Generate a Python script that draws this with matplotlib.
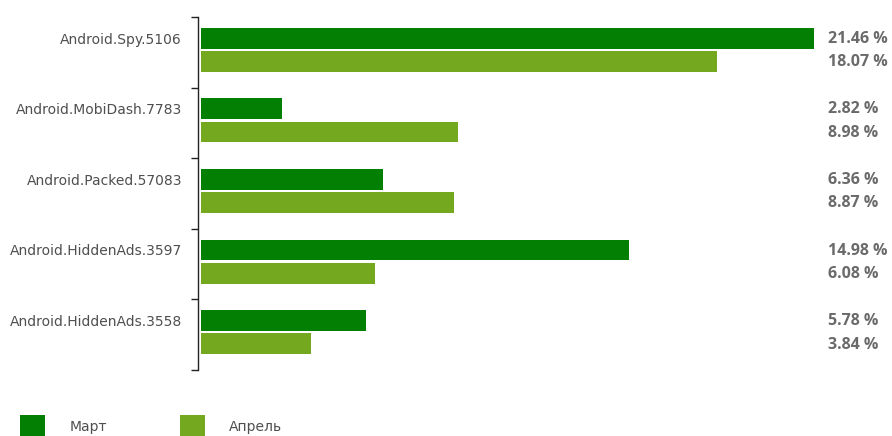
import matplotlib
matplotlib.use('Agg')
import matplotlib.pyplot as plt
from matplotlib.patches import Rectangle
from matplotlib.transforms import blended_transform_factory

# data
names = ["Android.Spy.5106", "Android.MobiDash.7783", "Android.Packed.57083",
         "Android.HiddenAds.3597", "Android.HiddenAds.3558"]
march = [21.46, 2.82, 6.36, 14.98, 5.78]
april = [18.07, 8.98, 8.87, 6.08, 3.84]
series_names = ["Март", "Апрель"]

c_march = "#038003"
c_april = "#74a81e"
txt_grey = "#4f4f4f"

W, H = 892, 436
fig = plt.figure(figsize=(W / 100, H / 100), dpi=100)
fig.patch.set_facecolor("white")

# axes placed in pixel terms: left spine at x=198, from y=17 to y=370
ax = fig.add_axes([198 / W, (H - 370) / H, (890 - 198) / W, 353 / H])

px_per_pct = 28.57
ax.set_xlim(-3 / px_per_pct, (890 - 198 - 3) / px_per_pct)
ax.set_ylim(len(names), 0)

bar_h = 0.295
off1, off2 = 0.30, 0.63
for i in range(len(names)):
    ax.barh(i + off1, march[i], height=bar_h, color=c_march, edgecolor="none")
    ax.barh(i + off2, april[i], height=bar_h, color=c_april, edgecolor="none")

# spines / ticks
for s in ["top", "right", "bottom"]:
    ax.spines[s].set_visible(False)
ax.spines["left"].set_color("#222222")
ax.spines["left"].set_linewidth(1.0)
ax.set_xticks([])
ax.set_yticks(range(len(names) + 1))
ax.set_yticklabels([])
ax.tick_params(axis="y", length=5, width=1.0, color="#222222")

# category labels
lab_tr = blended_transform_factory(fig.transFigure, ax.transData)
for i, n in enumerate(names):
    ax.text(182 / W, i + off1 + 0.02, n, transform=lab_tr, ha="right", va="center",
            fontsize=10, color=txt_grey, family="DejaVu Sans")

# value labels
for i in range(len(names)):
    ax.text(828 / W, i + off1 + 0.01, f"{march[i]:.2f} %", transform=lab_tr,
            ha="left", va="center", fontsize=11.5, fontweight="bold",
            color="#6a6a6a", family="Open Sans")
    ax.text(828 / W, i + off2 + 0.01, f"{april[i]:.2f} %", transform=lab_tr,
            ha="left", va="center", fontsize=11.5, fontweight="bold",
            color="#6a6a6a", family="Open Sans")

# legend drawn at the bottom (partly cut off like the reference)
leg_items = [(20, c_march, 70), (180, c_april, 229)]
for (x0, col, tx), lab in zip(leg_items, series_names):
    fig.patches.append(Rectangle((x0 / W, 0), 25 / W, 21 / H, transform=fig.transFigure,
                                 facecolor=col, edgecolor="none"))
    fig.text(tx / W, (H - 427) / H, lab, ha="left", va="center", fontsize=10,
             color=txt_grey, family="DejaVu Sans")

fig.savefig("out.png", dpi=100, facecolor="white")
